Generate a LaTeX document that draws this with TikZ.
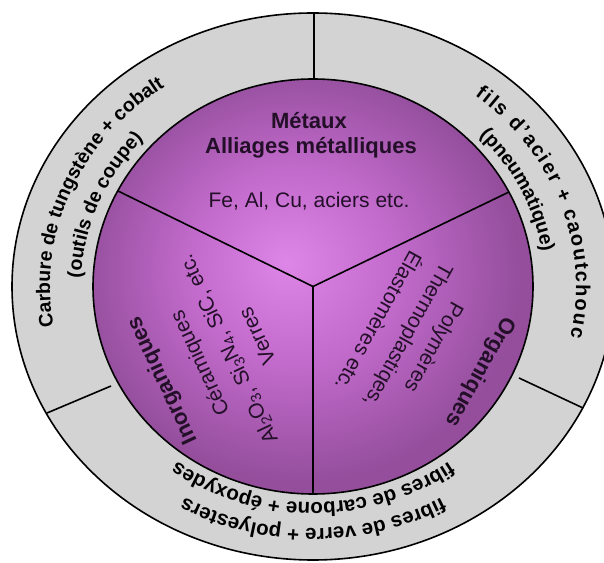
\documentclass[tikz,border=0pt]{standalone}
\usepackage{fontspec}
\setmainfont{Liberation Sans}
\usetikzlibrary{decorations.text,calc}
\definecolor{ringgray}{RGB}{211,211,211}
\definecolor{pc}{RGB}{222,134,232}
\definecolor{pm}{RGB}{196,108,206}
\definecolor{pe}{RGB}{148,78,156}
\definecolor{inktext}{RGB}{35,15,40}
\pgfdeclareradialshading{pieshade}{\pgfpoint{-3bp}{3bp}}{color(0bp)=(pc); color(11bp)=(pm); color(25bp)=(pe); color(50bp)=(pe)}
\begin{document}
\begin{tikzpicture}[x=1pt,y=1pt,
  outline/.style={draw=black, line width=1.6pt},
  divider/.style={draw=black, line width=1.6pt},
  boldinner/.style={font=\bfseries\fontsize{22}{25}\selectfont, text=inktext, inner sep=0pt},
  plaininner/.style={font=\fontsize{21}{25}\selectfont, text=inktext, inner sep=0pt},
  ringtext/.style 2 args={decorate, decoration={text along path, text align=center,
     text={|\bfseries\fontsize{#1}{21}\selectfont|#2}}},
  ringtextfit/.style 2 args={decorate, decoration={text along path, text align=fit to path,
     text={|\bfseries\fontsize{#1}{21}\selectfont|#2}}}]
\clip (0,0) rectangle (604,562);
\fill[white] (0,0) rectangle (604,562);
\coordinate (C) at (313,275.5);
% outer ring
\path[outline, fill=ringgray] (C) ellipse[x radius=301, y radius=273.5];
% inner disc
\shadedraw[shading=pieshade, outline] (C) ellipse[x radius=220, y radius=207.5];
% inner dividers
\coordinate (ib) at (313,68);
\coordinate (il) at (118,371);
\coordinate (ir) at (509,370);
\draw[divider, line join=miter] (il) -- (C) -- (ir);
\draw[divider] (C) -- (ib);
% outer dividers
\coordinate (ot1) at (314,549);
\coordinate (ot2) at (314,483);
\coordinate (ol1) at (111,176);
\coordinate (ol2) at (47,149);
\coordinate (or1) at (519,184);
\coordinate (or2) at (583,154);
\draw[divider] (ot1) -- (ot2);
\draw[divider] (ol1) -- (ol2);
\draw[divider] (or1) -- (or2);
% ring texts
\path[ringtext={19.5}{Carbure de tungstène + cobalt}]
  ($(C)+(210:263 and 242)$) arc[start angle=210, end angle=105, x radius=263, y radius=242];
\path[ringtext={19.5}{(outils de coupe)}]
  ($(C)+(206:232 and 216)$) arc[start angle=206, end angle=110, x radius=232, y radius=216];
\path[ringtextfit={20}{fils d'acier + caoutchouc}]
  ($(C)+(52:263 and 242)$) arc[start angle=52, end angle=-12, x radius=263, y radius=242];
\path[ringtext={19.5}{(pneumatique)}]
  ($(C)+(72:232 and 216)$) arc[start angle=72, end angle=-20, x radius=232, y radius=216];
\path[ringtext={20.5}{fibres de verre + polyesters}]
  ($(C)+(-40:263 and 242)$) arc[start angle=-40, end angle=-140, x radius=263, y radius=242];
\path[ringtext={20.5}{fibres de carbone + époxydes}]
  ($(C)+(-40:232 and 216)$) arc[start angle=-40, end angle=-140, x radius=232, y radius=216];
% top sector
\node[boldinner, anchor=base] (metaux) at (309,433) {Métaux};
\node[boldinner, anchor=base] (alliages) at (311,408) {Alliages métalliques};
\node[plaininner, anchor=base] (fe) at (309,354) {Fe, Al, Cu, aciers etc.};
% right sector
\node[boldinner, rotate=-119] (org) at (480,190.5) {Organiques};
\node[plaininner, rotate=-119] (poly) at (433,215) {Polymères};
\node[plaininner, rotate=-119] (thermo) at (407,227) {Thermoplastiqes,};
\node[plaininner, rotate=-119] (elast) at (380,240) {Élastomères etc.};
% left sector
\node[boldinner, rotate=115] (inorg) at (163,182) {Inorganiques};
\node[plaininner, rotate=115] (ceram) at (201,199) {Céramiques};
\node[plaininner, rotate=115] (alo) at (229,213) {Al\textsubscript{2}O\textsubscript{3}, Si\textsubscript{3}N\textsubscript{4}, SiC, etc.};
\node[plaininner, rotate=115] (verres) at (257,226) {Verres};
\end{tikzpicture}
\end{document}
